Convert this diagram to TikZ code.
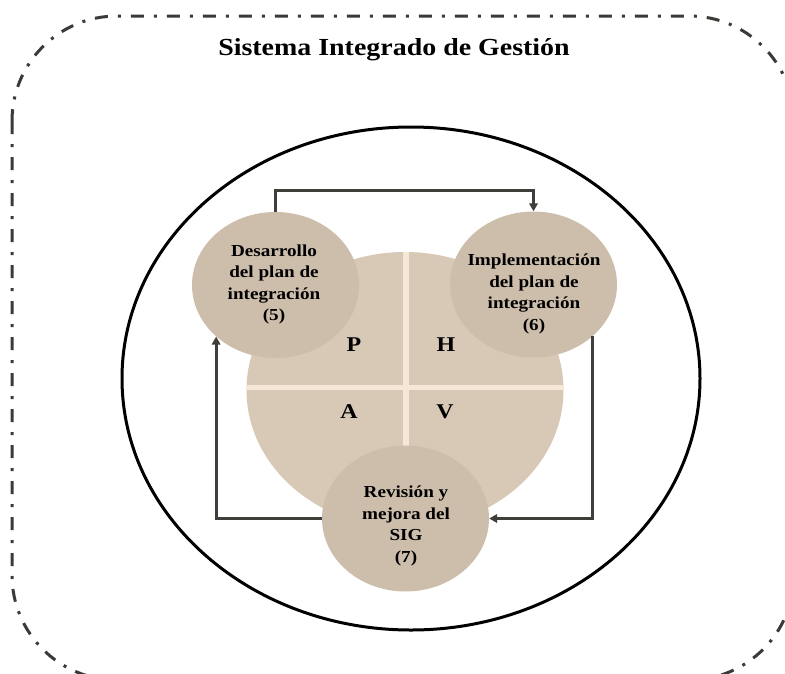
\documentclass[tikz,border=0pt]{standalone}
\usepackage{fontspec}
\setmainfont{Liberation Serif}[FakeStretch=1.14]
\usetikzlibrary{shapes.geometric,arrows.meta,calc}
\definecolor{pdcafill}{HTML}{D8C8B6}
\definecolor{blobfill}{HTML}{CDBDAB}
\definecolor{crossline}{HTML}{F6E8D6}
\definecolor{connline}{HTML}{403E3A}
\definecolor{frameline}{HTML}{3C3A36}
\tikzset{
  blob/.style={ellipse, fill=blobfill, draw=none, inner sep=0pt,
    minimum width=167pt, minimum height=146pt},
  blobtext/.style={align=center, inner sep=0pt,
    font=\fontsize{16.8}{21.5}\selectfont\bfseries},
  quad/.style={anchor=base, inner sep=0pt, font=\fontsize{21}{24}\selectfont\bfseries},
  conn/.style={draw=connline, line width=3pt,
    -{Triangle[length=8pt,width=8.5pt]}},
  frame/.style={draw=frameline, line width=3pt,
    dash pattern=on 13pt off 10pt on 3pt off 10pt},
}
\begin{document}
\begin{tikzpicture}[x=1pt,y=-1pt]
\useasboundingbox (0,0) rectangle (785,673);
\begin{scope}
\clip (0,0) rectangle (785,673);
% outer dash-dot frame
\draw[frame, rounded corners=105pt] (12,16) rectangle (794,680);
% title
\node[anchor=base, inner sep=0pt, font=\fontsize{24.5}{28}\selectfont\bfseries]
  (title) at (394,55) {Sistema Integrado de Gestión};
% big outline ellipse
\draw[black, line width=3pt] (411,378.5) ellipse [x radius=289, y radius=251.5];
% PDCA ellipse
\fill[pdcafill] (405,390) ellipse [x radius=158.5, y radius=138];
\begin{scope}
  \clip (405,390) ellipse [x radius=158.5, y radius=138];
  \draw[crossline, line width=5.5pt] (406,240) -- (406,540);
  \draw[crossline, line width=5pt] (240,387) -- (570,387);
\end{scope}
% quadrant letters
\node[quad] (qp) at (354,351) {P};
\node[quad] (qh) at (446,351) {H};
\node[quad] (qa) at (349,418) {A};
\node[quad] (qv) at (445,418) {V};
% circles
\node[blob] (c5) at (275.5,285) {};
\node[blob] (c6) at (533.5,284.5) {};
\node[blob] (c7) at (405.5,518.5) {};
\node[blobtext] (t5) at (274,284.5) {Desarrollo\\del plan de\\integración\\(5)};
\node[blobtext] (t6) at (534,294) {Implementación\\del plan de\\integración\\(6)};
\node[blobtext] (t7) at (406,526) {Revisión y\\mejora del\\SIG\\(7)};
% connectors
\draw[conn] (c5.north) -- ++(0,-21) -| (c6.north);
\draw[conn] (c6.-41.5) |- (c7.east);
\draw[conn] (c7.west) -| (c5.-139.3);
\end{scope}
\end{tikzpicture}
\end{document}
